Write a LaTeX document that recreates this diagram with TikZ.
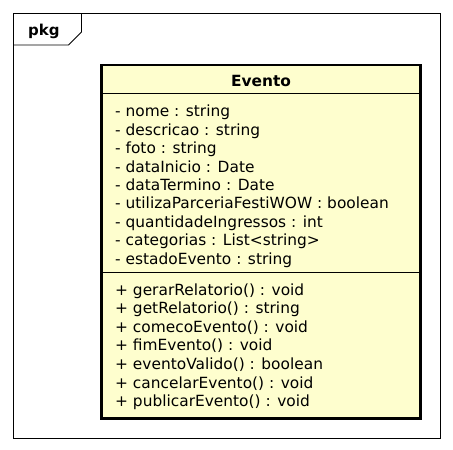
\documentclass[tikz,border=0pt]{standalone}
\usepackage{fontspec}
\setmainfont{DejaVu Sans}
\definecolor{classfill}{HTML}{FEFECE}
\begin{document}
\begin{tikzpicture}[x=1pt,y=-1pt,
  member/.style={anchor=base west, inner sep=0pt, font=\fontsize{15.4}{17}\selectfont}]
\useasboundingbox (0,0) rectangle (453,450);

% the package frame with its tab
\draw[line width=0.9pt] (13.3,13.3) rectangle (440.5,438.3);
\draw[line width=0.9pt] (13.3,45) -- (68.5,45) -- (81.5,32) -- (81.5,13.3);
\node[anchor=base west, inner sep=0pt, font=\fontsize{15}{17}\selectfont\bfseries] (pkg) at (28,35.5) {pkg};

% the class box
\filldraw[fill=classfill, line width=2.8pt] (101.5,65) rectangle (420.5,418.5);
\node[anchor=base, inner sep=0pt, font=\fontsize{15.4}{17}\selectfont\bfseries] (evento) at (261,86.7) {Evento};
\draw[line width=0.9pt] (101.5,93.5) -- (420.5,93.5);
\draw[line width=0.9pt] (101.5,272) -- (420.5,272);

% attributes
\foreach \txt [count=\i] in {{- nome : string}, {- descricao : string}, {- foto : string},
  {- dataInicio : Date}, {- dataTermino : Date}, {- utilizaParceriaFestiWOW : boolean},
  {- quantidadeIngressos : int}, {- categorias : List<string>}, {- estadoEvento : string}}
{
  \node[member] (attr\i) at (115, {116.7 + (\i-1)*18.45}) {\txt};
}

% methods
\foreach \txt [count=\i] in {{+ gerarRelatorio() : void}, {+ getRelatorio() : string},
  {+ comecoEvento() : void}, {+ fimEvento() : void}, {+ eventoValido() : boolean},
  {+ cancelarEvento() : void}, {+ publicarEvento() : void}}
{
  \node[member] (meth\i) at (115, {295 + (\i-1)*18.6}) {\txt};
}

\end{tikzpicture}
\end{document}
